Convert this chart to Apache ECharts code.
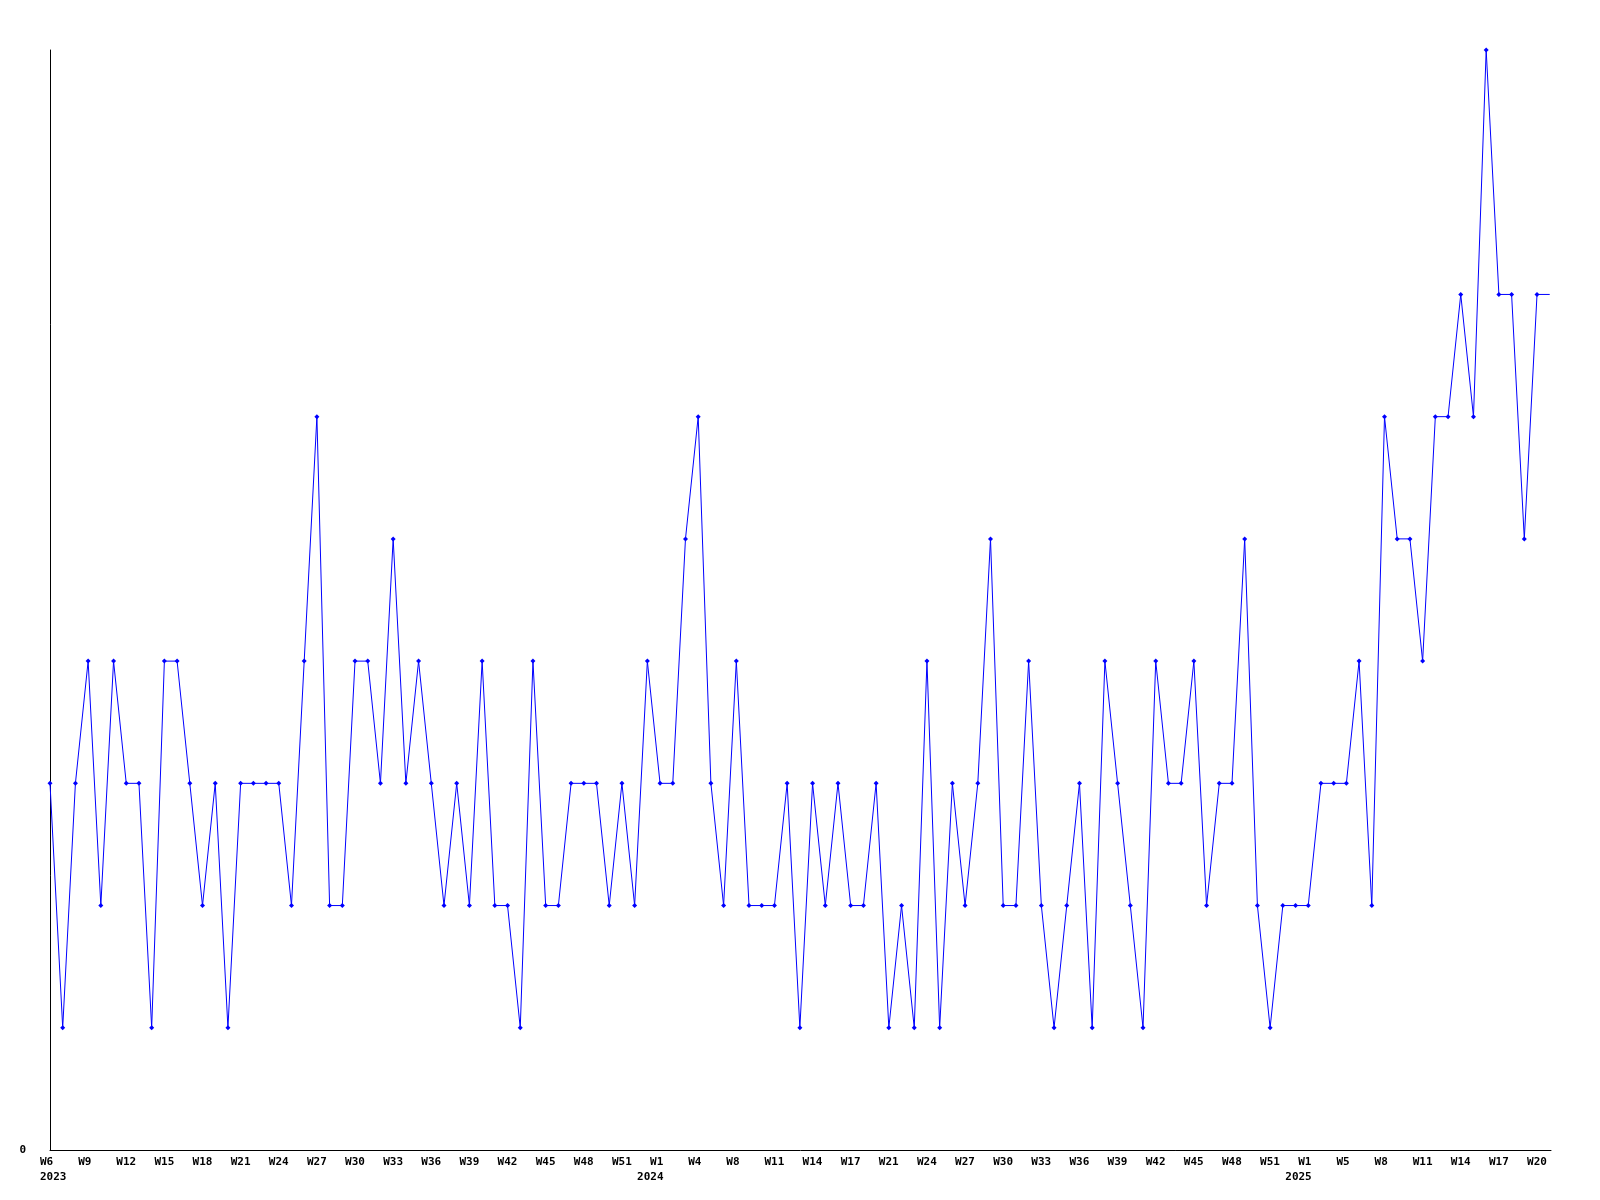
<!DOCTYPE html>
<html>
<head>
<meta charset="utf-8">
<script src="https://cdn.jsdelivr.net/npm/echarts@6/dist/echarts.min.js"></script>
<style>
html,body{margin:0;padding:0;background:#ffffff;}
#chart{width:1600px;height:1200px;}
</style>
</head>
<body>
<div id="chart"></div>
<script>
// Weekly values, W6 2023 onward (one per week)
const weeklyValues = [
  3,1,3,4,2,4,3,3,1,4,4,3,2,3,1,3,3,3,3,2,
  4,6,2,2,4,4,3,5,3,4,3,2,3,2,4,2,2,1,4,2,
  2,3,3,3,2,3,2,4,3,3,5,6,3,2,4,2,2,2,3,1,
  3,2,3,2,2,3,1,2,1,4,1,3,2,3,5,2,2,4,2,1,
  2,3,1,4,3,2,1,4,3,3,4,2,3,3,5,2,1,2,2,2,
  3,3,3,4,2,6,5,5,4,6,6,7,6,9,7,7,5,7
];
// current (partial) week, drawn as line only
const currentWeekValue = 7;

// x-axis tick labels, one every 3rd week index
const weekTickLabels = [
  'W6','W9','W12','W15','W18','W21','W24','W27','W30','W33','W36','W39','W42','W45','W48','W51',
  'W1','W4','W8','W11','W14','W17','W21','W24','W27','W30','W33','W36','W39','W42','W45','W48','W51',
  'W1','W5','W8','W11','W14','W17','W20'
];
const yearTickIndex = [0, 48, 99];
const yearTickText = ['2023', '2024', '2025'];

const FONT = 'DejaVu Sans Mono';
const labelBase = {color:'#000', fontFamily:FONT, fontWeight:'bold', fontSize:11};

const seriesData = weeklyValues.map((v, i) => [i, v]);
seriesData.push({value:[weeklyValues.length, currentWeekValue], symbol:'none'});

const chart = echarts.init(document.getElementById('chart'), null, {renderer:'canvas'});
chart.setOption({
  animation:false,
  backgroundColor:'#ffffff',
  grid:{left:50, right:49, top:50, bottom:50, containLabel:false},
  xAxis:[{
    type:'value', position:'bottom', min:0, max:118.1, interval:3,
    axisLine:{show:true, onZero:false, lineStyle:{color:'#000', width:1}},
    axisTick:{show:false}, splitLine:{show:false},
    axisLabel:Object.assign({}, labelBase, {
      margin:6, showMinLabel:true, showMaxLabel:false, hideOverlap:false,
      formatter:function(v){
        const k = Math.round(v/3);
        if (Math.abs(v - k*3) < 1e-6 && k < weekTickLabels.length) return '{w|' + weekTickLabels[k] + '}';
        return '';
      },
      rich:{w:Object.assign({}, labelBase, {width:20, align:'left', lineHeight:12})}
    })
  },{
    type:'value', position:'bottom', offset:0, min:0, max:118.1, interval:3,
    axisLine:{show:false}, axisTick:{show:false}, splitLine:{show:false},
    axisLabel:Object.assign({}, labelBase, {
      margin:21, showMinLabel:true, showMaxLabel:false, hideOverlap:false,
      formatter:function(v){
        const r = Math.round(v);
        if (Math.abs(v - r) > 1e-6) return '';
        const j = yearTickIndex.indexOf(r);
        if (j < 0) return '';
        return (j === 0 ? '{a|' : '{b|') + yearTickText[j] + '}';
      },
      rich:{
        a:Object.assign({}, labelBase, {width:20, align:'left', lineHeight:12}),
        b:Object.assign({}, labelBase, {width:7, align:'right', lineHeight:12})
      }
    })
  }],
  yAxis:{
    type:'value', min:0, max:9, interval:9,
    axisLine:{show:true, onZero:false, lineStyle:{color:'#000', width:1}},
    axisTick:{show:false}, splitLine:{show:false},
    axisLabel:Object.assign({}, labelBase, {
      margin:24, showMaxLabel:false,
      formatter:function(v){ return v === 0 ? '0' : ''; }
    })
  },
  series:[{
    type:'line', xAxisIndex:0, yAxisIndex:0,
    data:seriesData,
    clip:true,
    symbol:'diamond', symbolSize:5,
    lineStyle:{color:'#0000ff', width:1},
    itemStyle:{color:'#0000ff'},
    emphasis:{disabled:true}
  }]
});
</script>
</body>
</html>
